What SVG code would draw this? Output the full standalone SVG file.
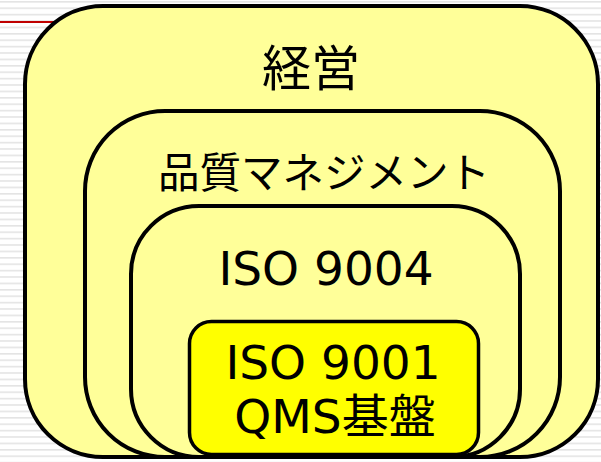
<svg xmlns="http://www.w3.org/2000/svg" width="601" height="462" viewBox="0 0 601 462">
<defs>
<pattern id="stripes" x="0" y="1" width="10" height="6.4" patternUnits="userSpaceOnUse">
<rect x="0" y="0" width="10" height="1.6" fill="#e4e4e4"/>
</pattern>
</defs>
<style>
.box{fill:#ffff99;stroke:#000;stroke-width:4}
.core{fill:#ffff00;stroke:#000;stroke-width:3.5}
.t{font-family:"DejaVu Sans","Noto Sans CJK JP",sans-serif;fill:#000;text-anchor:middle}
.j{font-family:"Noto Sans CJK JP","DejaVu Sans",sans-serif;fill:#000;text-anchor:middle}
</style>
<rect x="0" y="0" width="601" height="462" fill="#ffffff"/>
<rect x="0" y="0" width="601" height="462" fill="url(#stripes)"/>
<line x1="0" y1="22" x2="60" y2="22" stroke="#c00000" stroke-width="2"/>
<g id="keiei">
<rect class="box" x="25" y="6" width="573" height="451" rx="78" ry="78"/>
<text class="j" x="311" y="86" font-size="49">経営</text>
</g>
<g id="hinshitsu">
<rect class="box" x="85" y="111" width="475" height="346" rx="80" ry="80"/>
<text class="j" x="324" y="188" font-size="41.5">品質マネジメント</text>
</g>
<g id="iso9004">
<rect class="box" x="131" y="206" width="389" height="251" rx="68" ry="68"/>
<text class="t" x="326" y="285" font-size="47">ISO 9004</text>
</g>
<g id="iso9001">
<rect class="core" x="189.5" y="321.5" width="289" height="133" rx="22" ry="22"/>
<text class="t" x="333" y="379" font-size="47">ISO 9001</text>
<text class="t" x="335" y="433" font-size="47">QMS<tspan font-family="Noto Sans CJK JP, sans-serif">基盤</tspan></text>
</g>
<g id="connectors"/>
</svg>
